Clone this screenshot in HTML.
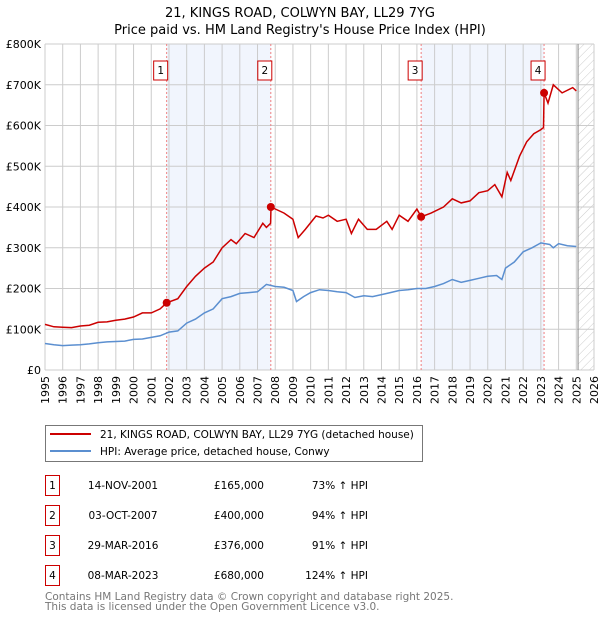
<!DOCTYPE html>
<html><head><meta charset="utf-8"><style>
body{margin:0;background:#fff;font-family:"DejaVu Sans","Liberation Sans",sans-serif;}
svg text{font-family:"DejaVu Sans","Liberation Sans",sans-serif;}
</style></head><body>
<svg id="chart" width="600" height="620" viewBox="0 0 600 620" xmlns="http://www.w3.org/2000/svg">
<defs><pattern id="hatch" width="6" height="6" patternUnits="userSpaceOnUse" patternTransform="rotate(45)"><line x1="0" y1="0" x2="0" y2="6" stroke="#ccc" stroke-width="1"/></pattern></defs>
<text x="300" y="17" text-anchor="middle" font-size="13">21, KINGS ROAD, COLWYN BAY, LL29 7YG</text>
<text x="300" y="34" text-anchor="middle" font-size="13">Price paid vs. HM Land Registry's House Price Index (HPI)</text>
<g id="plot"></g>
<rect x="45.5" y="425.5" width="377" height="36" fill="#fff" stroke="#777"/>
<line x1="50" y1="434" x2="91" y2="434" stroke="#cc0000" stroke-width="2"/>
<text x="100" y="438" font-size="10.5">21, KINGS ROAD, COLWYN BAY, LL29 7YG (detached house)</text>
<line x1="50" y1="451" x2="91" y2="451" stroke="#5b8fd0" stroke-width="2"/>
<text x="100" y="455" font-size="10.5">HPI: Average price, detached house, Conwy</text>
<g id="table"></g>
<text x="45" y="600" font-size="10.5" fill="#777">Contains HM Land Registry data © Crown copyright and database right 2025.</text>
<text x="45" y="610" font-size="10.5" fill="#777">This data is licensed under the Open Government Licence v3.0.</text>
</svg>
<script>
const hpiYears=[1995,1995.5,1996,1996.5,1997,1997.5,1998,1998.5,1999,1999.5,2000,2000.5,2001,2001.5,2002,2002.5,2003,2003.5,2004,2004.5,2005,2005.5,2006,2006.5,2007,2007.5,2008,2008.5,2009,2009.2,2009.6,2010,2010.5,2011,2011.5,2012,2012.5,2013,2013.5,2014,2014.5,2015,2015.5,2016,2016.5,2017,2017.5,2018,2018.5,2019,2019.5,2020,2020.5,2020.8,2021,2021.5,2022,2022.5,2023,2023.5,2023.7,2024,2024.5,2025];
const hpiValues=[65,62,60,61,62,64,67,69,70,71,75,76,80,84,93,96,115,125,140,150,175,180,188,190,192,210,205,203,195,168,180,190,197,195,192,190,178,182,180,185,190,195,197,200,200,205,212,222,215,220,225,230,232,222,250,265,290,300,312,308,300,310,305,303];
const redYears=[1995,1995.5,1996,1996.5,1997,1997.5,1998,1998.5,1999,1999.5,2000,2000.5,2001,2001.5,2001.87,2002.5,2003,2003.5,2004,2004.5,2005,2005.5,2005.8,2006.3,2006.8,2007.3,2007.5,2007.74,2007.76,2008.5,2009,2009.3,2009.7,2010.3,2010.7,2011,2011.5,2012,2012.3,2012.7,2013.2,2013.7,2014.3,2014.6,2015,2015.5,2016,2016.24,2016.8,2017.5,2018,2018.5,2019,2019.5,2020,2020.4,2020.8,2021.1,2021.3,2021.8,2022.2,2022.6,2023.0,2023.15,2023.18,2023.4,2023.7,2024.2,2024.8,2025];
const redValues=[112,106,105,104,108,110,117,118,122,125,130,140,140,150,165,175,205,230,250,265,300,320,310,335,325,360,350,360,400,385,370,325,345,378,373,380,365,370,335,370,345,345,365,345,380,365,395,376,385,400,420,410,415,435,440,455,425,485,465,525,560,580,590,595,680,655,700,680,693,685];
const saleYears=[2001.87,2007.75,2016.24,2023.18];
const saleValues=[165,400,376,680];
const saleLabels=["1","2","3","4"];
const saleDates=["14-NOV-2001","03-OCT-2007","29-MAR-2016","08-MAR-2023"];
const salePrices=["£165,000","£400,000","£376,000","£680,000"];
const saleHpi=["73% ↑ HPI","94% ↑ HPI","91% ↑ HPI","124% ↑ HPI"];
const yTicks=[0,100,200,300,400,500,600,700,800];
const yTickLabels=["£0","£100K","£200K","£300K","£400K","£500K","£600K","£700K","£800K"];
const xYears=[];for(let y=1995;y<=2026;y++)xYears.push(y);

const X0=45,X1=594,Y0=370,Y1=44;
const xs=y=>X0+(y-1995)/(2026-1995)*(X1-X0);
const ys=v=>Y0-v/800*(Y0-Y1);
const NS="http://www.w3.org/2000/svg";
const plot=document.getElementById('plot');
function mk(tag,attrs,parent){const e=document.createElementNS(NS,tag);for(const k in attrs)e.setAttribute(k,attrs[k]);(parent||plot).appendChild(e);return e;}

let e;
e=mk('rect',{x:X0,y:Y1,width:X1-X0,height:Y0-Y1,fill:'#fff'});


for(const [a,b] of [[0,1],[2,3]]){
 e=mk('rect',{x:xs(saleYears[a]),y:Y1,width:xs(saleYears[b])-xs(saleYears[a]),height:Y0-Y1,fill:'#eef3fc',opacity:0.8});
 
 
}
e=mk('rect',{x:xs(2025.1),y:Y1,width:X1-xs(2025.1),height:Y0-Y1,fill:'url(#hatch)'});


xYears.forEach(y=>{e=mk('line',{x1:xs(y),x2:xs(y),y1:Y1,y2:Y0,stroke:'#ccc','stroke-width':1});
 
 
 e=mk('text',{x:0,y:0,transform:`translate(${xs(y)+4},${Y0+6}) rotate(-90)`,'text-anchor':'end','font-size':11});
 e.textContent=y;
 
 
});
yTicks.forEach((v,i)=>{e=mk('line',{x1:X0,x2:X1,y1:ys(v),y2:ys(v),stroke:'#ccc','stroke-width':1});
 
 
 e=mk('text',{x:X0-4,y:ys(v)+4,'text-anchor':'end','font-size':11});
 e.textContent=yTickLabels[i];
 
 
});
e=mk('line',{x1:xs(2025.1),x2:xs(2025.1),y1:Y1,y2:Y0,stroke:'#888','stroke-width':1});


saleYears.forEach(y=>{e=mk('line',{x1:xs(y),x2:xs(y),y1:Y1,y2:Y0,stroke:'#f08080','stroke-width':1,'stroke-dasharray':'2,2'});
 
 
});
function pts(xa,va){return xa.map((x,i)=>xs(x).toFixed(1)+','+ys(va[i]).toFixed(1)).join(' ');}
e=mk('polyline',{points:pts(hpiYears,hpiValues),fill:'none',stroke:'#5b8fd0','stroke-width':1.5});


e=mk('polyline',{points:pts(redYears,redValues),fill:'none',stroke:'#cc0000','stroke-width':1.5});


saleYears.forEach((y,i)=>{
 e=mk('circle',{cx:xs(y),cy:ys(saleValues[i]),r:4,fill:'#cc0000'});
 
 
 e=mk('rect',{x:xs(y)-13,y:61,width:14,height:19,fill:'#fff',stroke:'#cc0000'});
 
 
 e=mk('text',{x:xs(y)-6,y:74,'text-anchor':'middle','font-size':10.5});
 e.textContent=saleLabels[i];
 
 
});
const tb=document.getElementById('table');
saleLabels.forEach((l,i)=>{
 const ty=485+i*30;
 e=mk('rect',{x:45.5,y:ty-9.5,width:14,height:20,fill:'#fff',stroke:'#cc0000'},tb);
 
 
 e=mk('text',{x:52.5,y:ty+4,'text-anchor':'middle','font-size':10.5},tb);e.textContent=l;
 
 
 e=mk('text',{x:123,y:ty+4,'text-anchor':'middle','font-size':10.5},tb);e.textContent=saleDates[i];
 
 
 e=mk('text',{x:264,y:ty+4,'text-anchor':'end','font-size':10.5},tb);e.textContent=salePrices[i];
 
 
 e=mk('text',{x:368,y:ty+4,'text-anchor':'end','font-size':10.5},tb);e.textContent=saleHpi[i];
 
 
});
</script>
</body></html>
